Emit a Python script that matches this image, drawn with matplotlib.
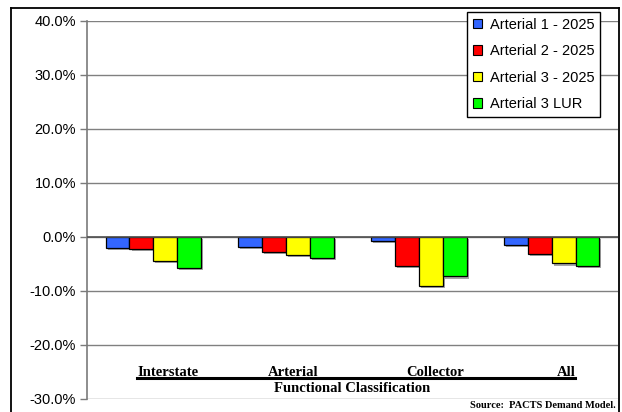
import matplotlib
matplotlib.use("Agg")
import matplotlib.pyplot as plt
import matplotlib.patheffects as pe
from matplotlib.patches import Patch
from matplotlib.lines import Line2D
import numpy as np

# Percent change by functional classification
categories = ["Interstate", "Arterial", "Collector", "All"]
series_names = ["Arterial 1 - 2025", "Arterial 2 - 2025", "Arterial 3 - 2025", "Arterial 3 LUR"]
arterial1_2025 = [-2.0, -1.9, -0.7, -1.5]
arterial2_2025 = [-2.2, -2.7, -5.3, -3.2]
arterial3_2025 = [-4.5, -3.4, -9.0, -4.9]
arterial3_lur = [-5.8, -3.8, -7.3, -5.3]
y_ticks = [40, 30, 20, 10, 0, -10, -20, -30]

series = [arterial1_2025, arterial2_2025, arterial3_2025, arterial3_lur]
colors = ["#3366FF", "#FF0000", "#FFFF00", "#00FF00"]

W, H = 622, 412
fig = plt.figure(figsize=(W / 100, H / 100), dpi=100)

def fx(px):
    return px / W

def fy(py):
    return 1 - py / H

ax = fig.add_axes([fx(87), fy(399), fx(618) - fx(87), fy(21) - fy(399)])

x = np.arange(len(categories))
bw = 0.18
shadow = [pe.SimplePatchShadow(offset=(1.5, -1.5), shadow_rgbFace="#808080", alpha=0.7), pe.Normal()]
for i, (vals, col) in enumerate(zip(series, colors)):
    bars = ax.bar(x + (i - 1.5) * bw, vals, bw, color=col, edgecolor="black",
                  linewidth=0.9, zorder=3, label=series_names[i])
    for b in bars:
        b.set_path_effects(shadow)

ax.set_xlim(-0.5, len(categories) - 0.5)
ax.set_ylim(-30, 40)
ax.set_yticks(y_ticks)
ax.set_yticklabels([f"{v:.1f}%" for v in y_ticks], fontsize=10.5, family="Liberation Sans")
ax.set_xticks([])
for v in y_ticks:
    ax.axhline(v, color="#808080", linewidth=1.0, zorder=1)
ax.axhline(0, color="#505050", linewidth=1.2, zorder=4)
for s in ["top", "right", "bottom"]:
    ax.spines[s].set_visible(False)
ax.spines["left"].set_color("#7a7a7a")
ax.spines["left"].set_linewidth(1.2)
ax.tick_params(axis="y", direction="out", length=5, width=1, color="#7a7a7a", pad=3)

# Legend
handles = [Patch(facecolor=c, edgecolor="black", linewidth=0.8) for c in colors]
leg = fig.legend(handles, series_names, loc="upper left",
                 bbox_to_anchor=(fx(467), fy(12)), bbox_transform=fig.transFigure,
                 frameon=True, fancybox=False, edgecolor="black", framealpha=1,
                 prop={"family": "Liberation Sans", "size": 10.5},
                 handlelength=0.6, handleheight=0.6, handletextpad=0.55,
                 labelspacing=0.85, borderpad=0.4, borderaxespad=0)
leg.get_frame().set_linewidth(1.0)

# Category labels under the plot
label_x = [168, 293, 435, 566]
for name, px in zip(categories, label_x):
    fig.text(fx(px), fy(372), name, ha="center", va="center",
             family="Liberation Serif", fontweight="bold", fontsize=10.5)
fig.add_artist(Line2D([fx(137), fx(575)], [fy(377.5), fy(377.5)], color="black",
                      linewidth=2.2, transform=fig.transFigure))
fig.text(fx(352), fy(388), "Functional Classification", ha="center", va="center",
         family="Liberation Serif", fontweight="bold", fontsize=10.5)
fig.text(fx(616), fy(405.5), "Source:  PACTS Demand Model.", ha="right", va="center",
         family="Liberation Serif", fontweight="bold", fontsize=7.5)

# Page frame
frame_kw = dict(color="black", linewidth=1.3, transform=fig.transFigure)
fig.add_artist(Line2D([fx(11), fx(619)], [fy(7.5), fy(7.5)], **frame_kw))
fig.add_artist(Line2D([fx(11), fx(11)], [fy(7.5), 0], **frame_kw))
fig.add_artist(Line2D([fx(619), fx(619)], [fy(7.5), 0], **frame_kw))

fig.savefig("out.png", dpi=100)
